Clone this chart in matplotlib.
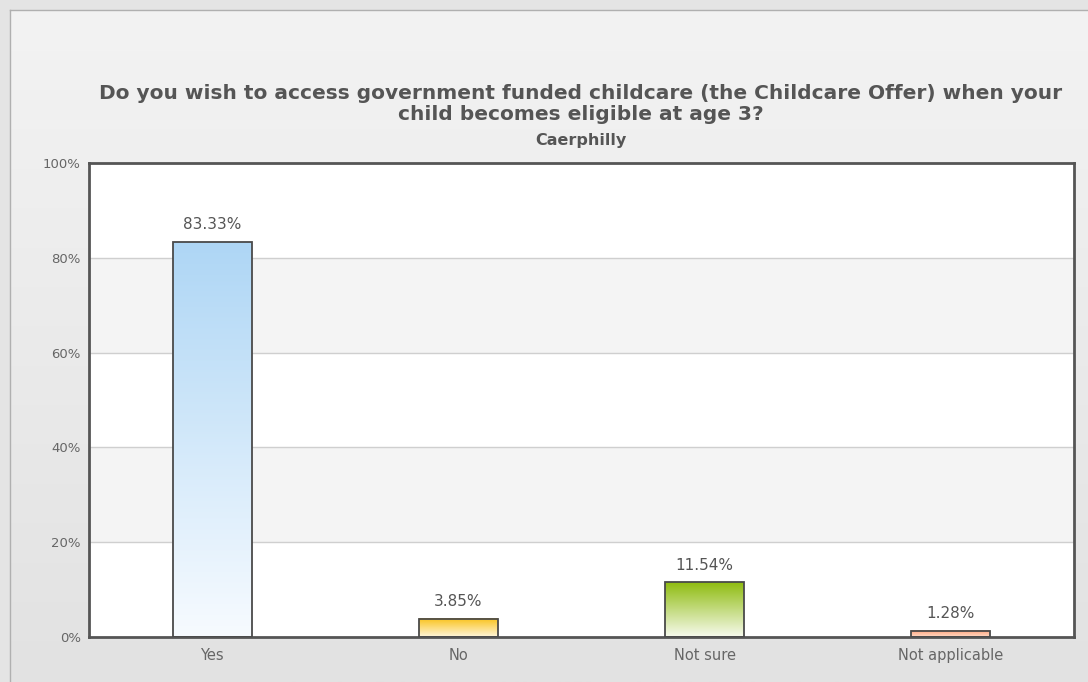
"""
Caerphilly childcare offer bar chart
"""

import matplotlib
matplotlib.use("Agg")
import matplotlib.pyplot as plt
import numpy as np
from matplotlib.colors import LinearSegmentedColormap

categories = ["Yes", "No", "Not sure", "Not applicable"]
values = [83.33, 3.85, 11.54, 1.28]
top_colors = ["#aed6f5", "#f9c21a", "#8fbc10", "#ffa47a"]
bottom_colors = ["#f7fbff", "#fff6dc", "#f7faee", "#ffd9c6"]
yticks = [0, 20, 40, 60, 80, 100]

title = ("Do you wish to access government funded childcare (the Childcare Offer) when your\n"
         "child becomes eligible at age 3?")
subtitle = "Caerphilly"

W, H = 1088, 682
fig = plt.figure(figsize=(W / 100, H / 100), dpi=100)
fig.patch.set_facecolor("#e4e4e4")

# background panel with vertical gradient
bg = fig.add_axes([10 / W, 0, 1 - 10 / W, 1 - 10 / H], zorder=-10)
grad = np.linspace(0, 1, 256).reshape(-1, 1)
bg_cmap = LinearSegmentedColormap.from_list("bg", ["#f3f3f3", "#e2e2e2"])
bg.imshow(grad, cmap=bg_cmap, aspect="auto", extent=[0, 1, 0, 1], origin="upper")
bg.set_xlim(0, 1)
bg.set_ylim(0, 1)
bg.set_xticks([])
bg.set_yticks([])
for side in ["right", "bottom"]:
    bg.spines[side].set_visible(False)
for side in ["top", "left"]:
    bg.spines[side].set_color("#b0b0b0")
    bg.spines[side].set_linewidth(1)

ax = fig.add_axes([89 / W, 1 - 637 / H, (1074 - 89) / W, (637 - 163) / H])
ax.set_facecolor("white")

# alternating bands
for lo in [20, 60]:
    ax.axhspan(lo, lo + 20, color="#f4f4f4", zorder=0, lw=0)
for y in yticks[1:-1]:
    ax.axhline(y, color="#cfcfcf", lw=1, zorder=1)

width = 0.32
for i, (v, c1, c2) in enumerate(zip(values, top_colors, bottom_colors)):
    cmap = LinearSegmentedColormap.from_list("g%d" % i, [c1, c2])
    ax.imshow(grad, cmap=cmap, aspect="auto", origin="upper",
              extent=[i - width / 2, i + width / 2, 0, v], zorder=2)
    ax.bar(i, v, width=width, fill=False, edgecolor="#4a4a4a", linewidth=1.3, zorder=3)
    ax.annotate("%.2f%%" % v, (i, v), xytext=(0, 7), textcoords="offset points",
                ha="center", va="bottom", fontsize=11, color="#555555")

ax.set_xlim(-0.5, len(categories) - 0.5)
ax.set_ylim(0, 100)
ax.set_xticks(range(len(categories)))
ax.set_xticklabels(categories)
ax.set_yticks(yticks)
ax.set_yticklabels(["%d%%" % t for t in yticks])
ax.tick_params(length=0, labelsize=10.5, colors="#666666", pad=8)
ax.tick_params(axis="y", labelsize=9.5, pad=6)
for sp in ax.spines.values():
    sp.set_color("#555555")
    sp.set_linewidth(2)

fig.text(581 / W, 1 - 104 / H, title, ha="center", va="center", fontsize=14.5,
         fontweight="bold", color="#555555", linespacing=1.15)
fig.text(581 / W, 1 - 140 / H, subtitle, ha="center", va="center", fontsize=11.5,
         fontweight="bold", color="#555555")

fig.savefig("out.png", dpi=100, facecolor=fig.get_facecolor())
